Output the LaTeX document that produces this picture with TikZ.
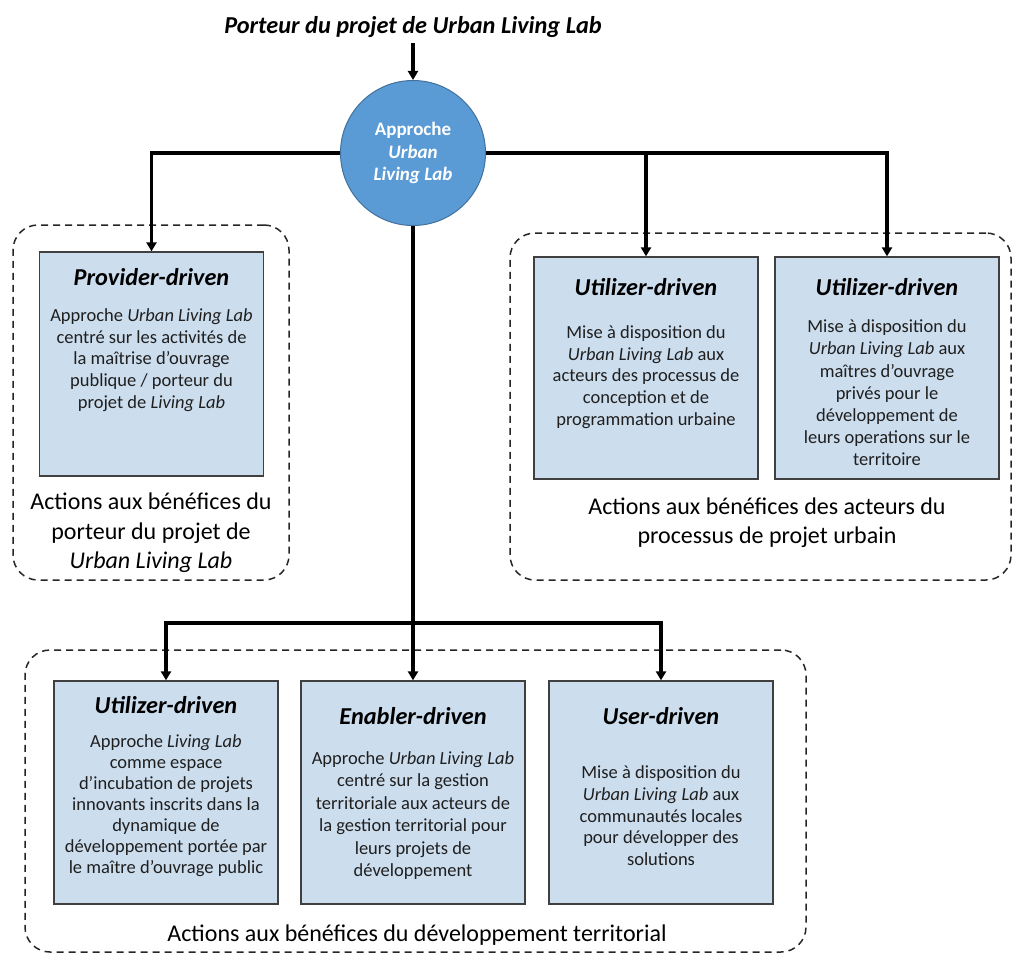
\documentclass[tikz,border=0pt]{standalone}
\usepackage{fontspec}
\setmainfont{Carlito}
\usetikzlibrary{arrows.meta}
\definecolor{boxfill}{RGB}{204,221,238}
\definecolor{boxline}{RGB}{64,64,64}
\definecolor{circfill}{RGB}{91,155,213}
\definecolor{circline}{RGB}{65,113,156}
\begin{document}
\begin{tikzpicture}[x=1pt,y=-1pt,
  stepbox/.style={draw=boxline, line width=1.3pt, fill=boxfill, minimum width=224pt, minimum height=223pt, inner sep=0pt},
  grp/.style={draw=black!85, line width=1.5pt, dash pattern=on 7pt off 5pt, rounded corners=25pt, inner sep=0pt},
  ttl/.style={font=\fontsize{24.3}{29}\selectfont\bfseries\itshape, inner sep=0pt},
  body/.style={font=\fontsize{18.5}{21.7}\selectfont, align=center, inner sep=0pt, text=black!88},
  lbl/.style={font=\fontsize{24}{29.5}\selectfont, align=center, inner sep=0pt},
  conn/.style={line width=3.3pt},
  arr/.style={conn, -{Triangle[length=9pt,width=10pt]}},
]
\useasboundingbox (0,0) rectangle (1014,955);
\fill[white] (0,0) rectangle (1014,955);

% groups
\node[grp, minimum width=276pt, minimum height=355pt] (gleft) at (151,402.5) {};
\node[grp, minimum width=501pt, minimum height=347pt] (gright) at (760.5,406.5) {};
\node[grp, minimum width=781pt, minimum height=302pt] (gbot) at (415.5,801) {};

% title and circle
\node[ttl] (title) at (413,27) {Porteur du projet de Urban Living Lab};
\node[circle, minimum size=145pt, fill=circfill, draw=circline, line width=1pt,
      text=white, font=\fontsize{19}{22.5}\selectfont\bfseries, align=center, inner sep=0pt]
      (circ) at (413,153) {Approche\\\textit{Urban}\\\textit{Living Lab}};

% boxes
\node[stepbox, minimum height=224pt] (prov) at (151.5,364) {};
\node[stepbox, minimum height=222pt] (ut1) at (646,368) {};
\node[stepbox, minimum height=222pt] (ut2) at (887,368) {};
\node[stepbox] (ub) at (166,792.5) {};
\node[stepbox] (en) at (413,792.5) {};
\node[stepbox] (us) at (661,792.5) {};

% box texts
\node[ttl] (provt) at (151.5,277) {Provider-driven};
\node[body] (provb) at (151.5,360) {Approche \textit{Urban Living Lab}\\centré sur les activités de\\la maîtrise d’ouvrage\\publique / porteur du\\projet de \textit{Living Lab}};

\node[ttl] (ut1t) at (646,287) {Utilizer-driven};
\node[body] (ut1b) at (646,377) {Mise à disposition du\\\textit{Urban Living Lab} aux\\acteurs des processus de\\conception et de\\programmation urbaine};

\node[ttl] (ut2t) at (887,287) {Utilizer-driven};
\node[body, font=\fontsize{18.5}{22.2}\selectfont] (ut2b) at (887,393) {Mise à disposition du\\\textit{Urban Living Lab} aux\\maîtres d’ouvrage\\privés pour le\\développement de\\leurs operations sur le\\territoire};

\node[ttl] (ubt) at (166,705) {Utilizer-driven};
\node[body, font=\fontsize{18.5}{21}\selectfont] (ubb) at (166,805.5) {Approche \textit{Living Lab}\\comme espace\\d’incubation de projets\\innovants inscrits dans la\\dynamique de\\développement portée par\\le maître d’ouvrage public};

\node[ttl] (ent) at (413,716) {Enabler-driven};
\node[body, font=\fontsize{18.5}{22.5}\selectfont] (enb) at (413,815.5) {Approche \textit{Urban Living Lab}\\centré sur la gestion\\territoriale aux acteurs de\\la gestion territorial pour\\leurs projets de\\développement};

\node[ttl] (ust) at (661,716) {User-driven};
\node[body] (usb) at (661,815.7) {Mise à disposition du\\\textit{Urban Living Lab} aux\\communautés locales\\pour développer des\\solutions};

% group labels
\node[lbl] (lleft) at (151,533) {Actions aux bénéfices du\\porteur du projet de\\\textit{Urban Living Lab}};
\node[lbl] (lright) at (767,522.5) {Actions aux bénéfices des acteurs du\\processus de projet urbain};
\node[lbl] (lbot) at (417,935) {Actions aux bénéfices du développement territorial};

% connectors
\draw[arr, shorten <=5pt] (title.south) -- (circ.north);
\draw[arr] (circ.west) -| (prov.north);
\draw[arr] (circ.east) -| (ut1.north);
\draw[arr] (circ.east) -| (ut2.north);
\coordinate (hub) at (413,623);
\draw[conn] (circ.south) -- (hub);
\draw[arr] (hub) -- (en.north);
\draw[arr] (hub) -| (ub.north);
\draw[arr] (hub) -| (us.north);
\end{tikzpicture}
\end{document}
